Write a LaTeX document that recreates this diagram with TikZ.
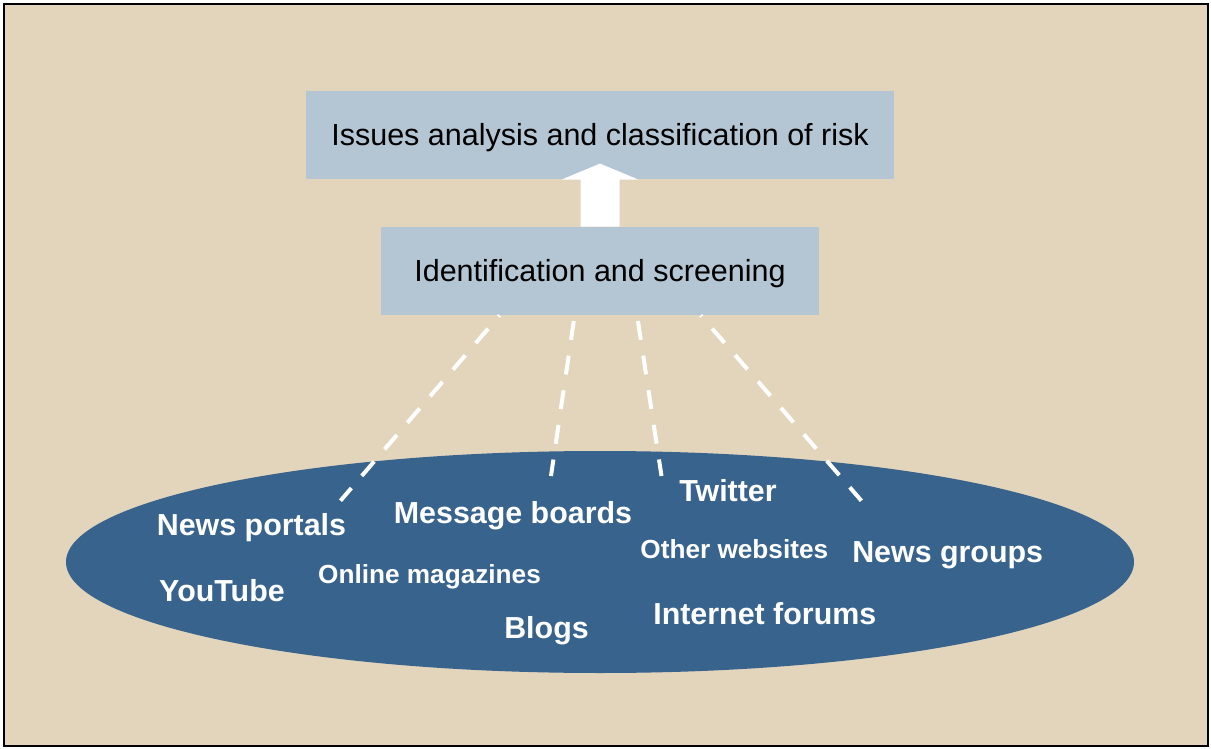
\documentclass[tikz,border=0pt]{standalone}
\usepackage{fontspec}
\setmainfont{Liberation Sans}
\usetikzlibrary{shapes.geometric,calc}
\definecolor{sand}{RGB}{227,213,188}
\definecolor{boxblue}{RGB}{180,198,211}
\definecolor{webblue}{RGB}{55,99,140}
\tikzset{
  stage/.style={fill=boxblue, minimum height=44pt, inner sep=0pt, text height=10.4pt, text depth=0pt,
    font=\fontsize{15.25}{18}\selectfont},
  src/.style={text=white, anchor=base, inner sep=0pt, font=\bfseries\fontsize{15.2}{18}\selectfont},
  srcsmall/.style={src, font=\bfseries\fontsize{13.1}{16}\selectfont},
  feed/.style={white, line width=2pt, dash pattern=on 9.5pt off 8pt}
}
\begin{document}
\begin{tikzpicture}[x=0.5pt,y=-0.5pt]
      \useasboundingbox (0,0) rectangle (1211,749);
      \draw[fill=sand, line width=1pt] (4,4.5) rectangle (1208,746);
      \node[ellipse, fill=webblue, minimum width=534pt, minimum height=111pt, inner sep=0pt] (web) at (600,562) {};
      \node[stage, minimum width=294pt] (issues) at (600,135) {Issues analysis and classification of risk};
      \node[stage, minimum width=219pt] (ident) at (600,271) {Identification and screening};
      \fill[white] (ident.north) +(-19.5,0) -- +(-19.5,-47) -- +(-38.5,-47) -- +(0,-63)
        -- +(38.5,-47) -- +(19.5,-47) -- +(19.5,0) -- cycle;
      \node[src] (portals) at (251.5,535) {News portals};
      \node[src] (boards) at (513,523.3) {Message boards};
      \node[src] (twitter) at (728,501) {Twitter};
      \node[src] (youtube) at (222,601) {YouTube};
      \node[srcsmall] (magazines) at (429.5,583.3) {Online magazines};
      \node[srcsmall] (websites) at (734.3,558.3) {Other websites};
      \node[src] (groups) at (947.7,562.7) {News groups};
      \node[src] (blogs) at (546.5,638.3) {Blogs};
      \node[src] (forums) at (764.8,624.3) {Internet forums};
      \coordinate (s1) at (340.5,500.7);
      \coordinate (s2) at (551,476);
      \coordinate (s3) at (661.5,476);
      \coordinate (s4) at (861.4,500.7);
      \begin{scope}[feed]
        \draw[dash phase=8.75pt] ($(ident.south)+(-100.5,0)$) to (s1);
        \draw[dash phase=14.65pt] ($(ident.south)+(-25.4,0)$) to (s2);
        \draw[dash phase=14.65pt] ($(ident.south)+(37.1,0)$) to (s3);
        \draw[dash phase=8.75pt] ($(ident.south)+(100.7,0)$) to (s4);
      \end{scope}
    \end{tikzpicture}
\end{document}
